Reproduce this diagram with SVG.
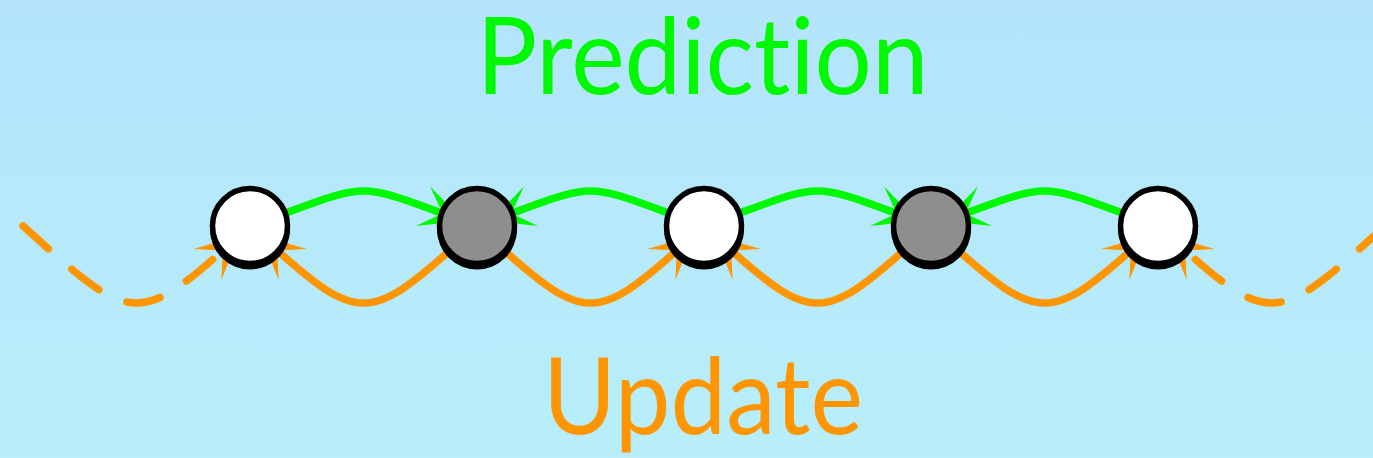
<svg xmlns="http://www.w3.org/2000/svg" width="1373" height="458" viewBox="0 0 1373 458">
  <defs>
    <linearGradient id="bg" x1="0" y1="0" x2="0" y2="1">
      <stop offset="0" stop-color="#b3e4fb"/>
      <stop offset="1" stop-color="#b8effb"/>
    </linearGradient>
    <marker id="arrowG" markerUnits="userSpaceOnUse" viewBox="-45 -22 47 44" markerWidth="47" markerHeight="44" refX="-15.5" refY="0" orient="auto" overflow="visible">
      <path d="M0,0 L-43,-21 L-22,0 L-43,21 Z" fill="#00f800"/>
    </marker>
    <marker id="arrowO" markerUnits="userSpaceOnUse" viewBox="-45 -22 47 44" markerWidth="47" markerHeight="44" refX="-15.5" refY="0" orient="auto" overflow="visible">
      <path d="M0,0 L-43,-21 L-22,0 L-43,21 Z" fill="#ff9500"/>
    </marker>
  </defs>
  <style>
    .pred { fill: none; stroke: #00f800; stroke-width: 7.5; marker-end: url(#arrowG); }
    .upd { fill: none; stroke: #ff9500; stroke-width: 7.5; marker-end: url(#arrowO); }
    .dash { stroke-dasharray: 34 31; stroke-linecap: round; }
    .shadow { fill: #000000; }
    .node { stroke: #000000; stroke-width: 5.5; }
    .white { fill: #ffffff; }
    .gray { fill: #8e8e8e; }
    .label { font-family: Lato, "Open Sans", "Liberation Sans", sans-serif; font-size: 106px; text-anchor: middle; font-variant-ligatures: none; font-feature-settings: "liga" 0, "clig" 0; }
  </style>
  <rect x="0" y="0" width="1373" height="458" fill="url(#bg)"/>

  <g id="connectors">
    <path class="pred" d="M278.2,215.7 C368.7,182.8 358.3,182.8 448.8,215.7"/>
    <path class="pred" d="M675.8,215.7 C585.3,182.8 595.7,182.8 505.2,215.7"/>
    <path class="pred" d="M732.2,215.7 C822.7,182.8 812.3,182.8 902.8,215.7"/>
    <path class="pred" d="M1129.8,215.7 C1039.3,182.8 1049.7,182.8 959.2,215.7"/>
    <path class="upd" d="M454.7,246.1 C370.4,322 356.6,322 272.3,246.1"/>
    <path class="upd" d="M499.3,246.1 C583.6,322 597.4,322 681.7,246.1"/>
    <path class="upd" d="M908.7,246.1 C824.4,322 810.6,322 726.3,246.1"/>
    <path class="upd" d="M953.3,246.1 C1037.6,322 1051.4,322 1135.7,246.1"/>
    <path class="upd dash" d="M23,226 L45.3,246.1 C129.6,322 143.4,322 227.7,246.1"/>
    <path class="upd dash" d="M1385,226 L1362.7,246.1 C1278.4,322 1264.6,322 1180.3,246.1"/>
  </g>

  <g id="node1">
    <circle class="shadow" cx="250" cy="229.5" r="40"/>
    <circle class="node white" cx="250" cy="226" r="37.5"/>
  </g>
  <g id="node2">
    <circle class="shadow" cx="477" cy="229.5" r="40"/>
    <circle class="node gray" cx="477" cy="226" r="37.5"/>
  </g>
  <g id="node3">
    <circle class="shadow" cx="704" cy="229.5" r="40"/>
    <circle class="node white" cx="704" cy="226" r="37.5"/>
  </g>
  <g id="node4">
    <circle class="shadow" cx="931" cy="229.5" r="40"/>
    <circle class="node gray" cx="931" cy="226" r="37.5"/>
  </g>
  <g id="node5">
    <circle class="shadow" cx="1158" cy="229.5" r="40"/>
    <circle class="node white" cx="1158" cy="226" r="37.5"/>
  </g>

  <g id="label-prediction">
    <text class="label" x="702.5" y="94" fill="#00f800" textLength="452" lengthAdjust="spacingAndGlyphs">Prediction</text>
  </g>
  <g id="label-update">
    <text class="label" x="703" y="434" fill="#ff9500" textLength="320" lengthAdjust="spacingAndGlyphs">Update</text>
  </g>
</svg>
